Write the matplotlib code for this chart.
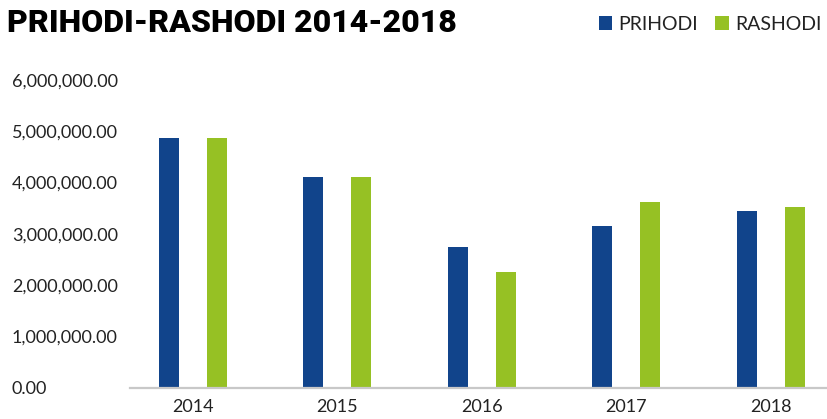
import matplotlib
matplotlib.use("Agg")
import matplotlib.pyplot as plt
import numpy as np

# podaci (procjena s grafa)
YEARS    = ["2014", "2015", "2016", "2017", "2018"]
PRIHODI  = [4870000, 4110000, 2740000, 3150000, 3450000]
RASHODI  = [4870000, 4110000, 2260000, 3620000, 3530000]
YTICKS   = [0, 1000000, 2000000, 3000000, 4000000, 5000000, 6000000]

BLUE  = "#11448b"
GREEN = "#96c124"
TXT   = "#222222"

plt.rcParams["font.family"] = ["Lato", "DejaVu Sans"]

W, H = 827, 419
fig = plt.figure(figsize=(W / 100, H / 100), dpi=100)
ax = fig.add_axes([130 / W, 31.5 / H, 1 - 130 / W, (387.5 - 80) / H])

x = np.arange(len(YEARS))
bw = 20 / 144.4
off = 24 / 144.4
b1 = ax.bar(x - off, PRIHODI, bw, color=BLUE, label="PRIHODI")
b2 = ax.bar(x + off, RASHODI, bw, color=GREEN, label="RASHODI")

ax.set_xlim(-0.436, 4.39)
ax.set_ylim(0, 6000000)
ax.set_xticks(x)
ax.set_xticklabels(YEARS, fontsize=13, color=TXT)
ax.set_yticks(YTICKS)
ax.set_yticklabels([f"{v:,.2f}" for v in YTICKS], fontsize=13, color=TXT)
for lab in ax.get_yticklabels():
    lab.set_horizontalalignment("left")
ax.tick_params(axis="y", length=0, pad=(130 - 12) * 0.72)
ax.tick_params(axis="x", length=0, pad=8)

for s in ["top", "right", "left"]:
    ax.spines[s].set_visible(False)
ax.spines["bottom"].set_color("#c8c8c8")
ax.spines["bottom"].set_linewidth(1.6)

fig.text(7 / W, 1 - 32 / H, "PRIHODI-RASHODI 2014-2018", fontsize=23,
         fontweight="black", color="black", ha="left", va="baseline",
         family=["Roboto", "DejaVu Sans"])

fig.legend(handles=[b1, b2], loc="upper right",
           bbox_to_anchor=(1.0, 1 - 10 / H),
           ncol=2, frameon=False, handlelength=0.7,
           handleheight=0.7, handletextpad=0.3, columnspacing=0.9,
           borderpad=0.2, borderaxespad=0.1,
           prop={"family": ["Lato", "DejaVu Sans"], "size": 14})
for t in fig.legends[0].get_texts():
    t.set_color(TXT)

fig.savefig("out.png", dpi=100)
